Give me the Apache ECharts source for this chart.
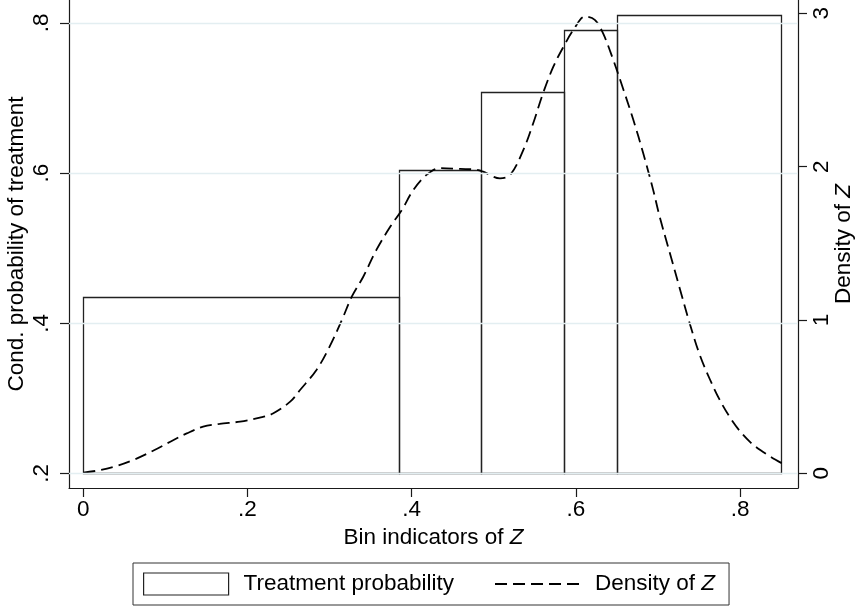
<!DOCTYPE html>
<html>
<head>
<meta charset="utf-8">
<script src="https://cdn.jsdelivr.net/npm/echarts@6/dist/echarts.min.js"></script>
<style>
html,body{margin:0;padding:0;background:#fff;}
#chart{width:855px;height:606px;}
</style>
</head>
<body>
<div id="chart"></div>
<script>
// ---- data ----
const binLeft  = [0, 0.385, 0.485, 0.585, 0.65];
const binRight = [0.385, 0.485, 0.585, 0.65, 0.85];
const binProb  = [0.4345, 0.6036, 0.7083, 0.7913, 0.8108];
const barBase = 0.2;

const densX = [0.000,0.020,0.041,0.061,0.085,0.106,0.126,0.146,0.166,0.191,0.215,0.231,0.252,0.264,0.284,0.300,0.315,0.327,0.341,0.357,0.374,0.388,0.402,0.418,0.434,0.459,0.479,0.487,0.5075,0.520,0.536,0.548,0.560,0.5725,0.585,0.597,0.611,0.623,0.633,0.6455,0.658,0.670,0.682,0.694,0.702,0.7145,0.727,0.739,0.751,0.763,0.775,0.787,0.799,0.812,0.825,0.838,0.851];
const densY = [0.005,0.020,0.048,0.087,0.147,0.206,0.260,0.304,0.322,0.337,0.363,0.390,0.467,0.543,0.674,0.826,1.000,1.152,1.282,1.457,1.609,1.717,1.848,1.946,1.990,1.985,1.980,1.967,1.924,1.946,2.109,2.283,2.479,2.652,2.783,2.892,2.979,2.957,2.870,2.696,2.500,2.304,2.087,1.850,1.674,1.435,1.196,0.970,0.770,0.615,0.480,0.370,0.280,0.205,0.150,0.105,0.065];

const xTickValues = [0, 0.2, 0.4, 0.6, 0.8];
const xTickLabels = ['0', '.2', '.4', '.6', '.8'];
const yLeftTickValues = [0.2, 0.4, 0.6, 0.8];
const yLeftTickLabels = ['.2', '.4', '.6', '.8'];
const yRightTickValues = [0, 1, 2, 3];
const yRightTickLabels = ['0', '1', '2', '3'];
const gridLineValues = [0.2, 0.4, 0.6, 0.8];

// ---- build ----
const FONT = 'Liberation Sans, Arial, sans-serif';
const FS = 22.5;
function lookup(vals, labs) {
  return function (v) {
    for (let i = 0; i < vals.length; i++) if (Math.abs(vals[i] - v) < 1e-9) return labs[i];
    return '';
  };
}
const barData = binLeft.map((l, i) => [l, binRight[i], binProb[i]]);
const densData = densX.map((x, i) => [x, densY[i]]);
const axisCol = '#1a1a1a';
const dash = [12, 6];

const chart = echarts.init(document.getElementById('chart'), null, {renderer: 'canvas'});
chart.setOption({
  animation: false,
  backgroundColor: '#fff',
  grid: {left: 69, right: 57, top: 0, bottom: 118, containLabel: false, outerBoundsMode: 'none'},
  xAxis: {
    type: 'value', min: -0.0174, max: 0.8705,
    name: 'Bin indicators of {i|Z}', nameLocation: 'middle', nameGap: 38, nameMoveOverlap: false,
    nameTextStyle: {fontSize: FS, color: '#000', fontFamily: FONT,
      rich: {i: {fontStyle: 'italic', fontSize: FS, color: '#000', fontFamily: FONT}}},
    axisLine: {show: true, onZero: false, lineStyle: {color: axisCol, width: 1.2}},
    axisTick: {show: true, customValues: xTickValues, length: 9, lineStyle: {color: axisCol, width: 1.2}},
    axisLabel: {customValues: xTickValues, formatter: lookup(xTickValues, xTickLabels),
      fontSize: FS, color: '#000', fontFamily: FONT, margin: 10},
    splitLine: {show: false}
  },
  yAxis: [{
    type: 'value', min: 0.1806, max: 0.8306, position: 'left',
    name: 'Cond. probability of treatment', nameLocation: 'middle', nameGap: 41, nameRotate: 90,
    nameMoveOverlap: false,
    nameTextStyle: {fontSize: FS, color: '#000', fontFamily: FONT},
    axisLine: {show: true, onZero: false, lineStyle: {color: axisCol, width: 1.2}},
    axisTick: {show: true, customValues: yLeftTickValues, length: 9, lineStyle: {color: axisCol, width: 1.2}},
    axisLabel: {customValues: yLeftTickValues, formatter: lookup(yLeftTickValues, yLeftTickLabels),
      rotate: 90, fontSize: FS, color: '#000', fontFamily: FONT, margin: 16},
    splitLine: {show: false}
  }, {
    type: 'value', min: -0.0959, max: 3.0867, position: 'right',
    name: 'Density of {i|Z}', nameLocation: 'middle', nameGap: 34, nameRotate: 90,
    nameMoveOverlap: false,
    nameTextStyle: {fontSize: FS, color: '#000', fontFamily: FONT,
      rich: {i: {fontStyle: 'italic', fontSize: FS, color: '#000', fontFamily: FONT}}},
    axisLine: {show: true, onZero: false, lineStyle: {color: axisCol, width: 1.2}},
    axisTick: {show: true, customValues: yRightTickValues, length: 9, lineStyle: {color: axisCol, width: 1.2}},
    axisLabel: {customValues: yRightTickValues, formatter: lookup(yRightTickValues, yRightTickLabels),
      rotate: 90, fontSize: FS, color: '#000', fontFamily: FONT, margin: 12},
    splitLine: {show: false}
  }],
  legend: {
    left: 133, top: 563,
    padding: [9, 14, 9, 10],
    itemGap: 40, itemWidth: 85, itemHeight: 22,
    borderColor: '#333', borderWidth: 1, backgroundColor: '#fff',
    textStyle: {fontSize: FS, color: '#000', fontFamily: FONT, lineHeight: 24, padding: [0, 0, 0, 10],
      rich: {i: {fontStyle: 'italic', fontSize: FS, color: '#000', fontFamily: FONT}}},
    formatter: function (n) { return n === 'Density of Z' ? 'Density of {i|Z}' : n; },
    selectedMode: false,
    data: [
      {name: 'Treatment probability', icon: 'rect', itemStyle: {color: '#fff', borderColor: '#222', borderWidth: 1.2}},
      {name: 'Density of Z', itemStyle: {opacity: 0}, lineStyle: {color: '#000', width: 1.8, type: dash}}
    ]
  },
  series: [{
    name: 'gridlines', type: 'line', data: [], yAxisIndex: 0, silent: true, z: 1,
    markLine: {silent: true, symbol: 'none', label: {show: false},
      lineStyle: {color: '#e3eef1', width: 1.3, type: 'solid'},
      data: gridLineValues.map(v => ({yAxis: v}))}
  }, {
    name: 'Treatment probability', type: 'custom', z: 3,
    itemStyle: {color: '#fff', borderColor: '#222'},
    renderItem: function (params, api) {
      const tl = api.coord([api.value(0), api.value(2)]);
      const br = api.coord([api.value(1), barBase]);
      return {type: 'rect',
        shape: {x: Math.round(tl[0]) + 0.5, y: Math.round(tl[1]) + 0.5,
                width: Math.round(br[0]) - Math.round(tl[0]), height: Math.round(br[1]) - Math.round(tl[1])},
        style: {fill: 'none', stroke: '#222', lineWidth: 1.3}};
    },
    encode: {x: [0, 1], y: 2},
    data: barData
  }, {
    name: 'Density of Z', type: 'line', yAxisIndex: 1, z: 4,
    data: densData, smooth: 0.35, showSymbol: false, symbol: 'none',
    lineStyle: {color: '#000', width: 1.8, type: dash},
    itemStyle: {color: '#000'}
  }]
});
</script>
</body>
</html>
